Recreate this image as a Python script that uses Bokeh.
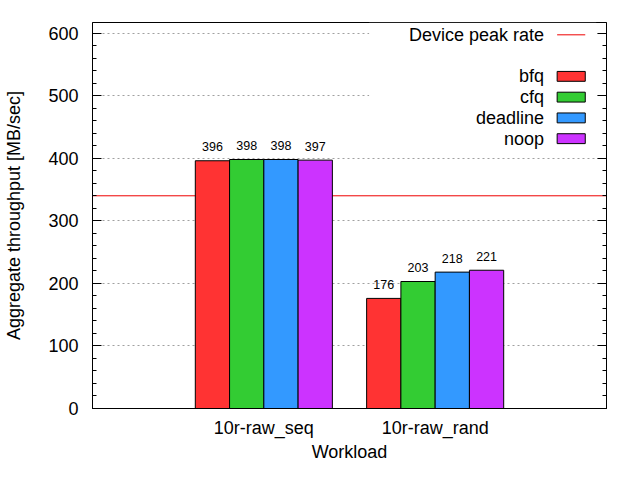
from bokeh.plotting import figure
from bokeh.models import (Span, SingleIntervalTicker, FixedTicker,
                          LinearAxis, Range1d, ColumnDataSource, Label)
from bokeh.embed import file_html
from bokeh.resources import INLINE
from bokeh.core.properties import value

# ---- data ----
workloads = ["10r-raw_seq", "10r-raw_rand"]
schedulers = ["bfq", "cfq", "deadline", "noop"]
colors = ["#ff3333", "#33cc33", "#3399ff", "#cc33ff"]
bfq = [396, 176]
cfq = [398, 203]
deadline = [398, 218]
noop = [397, 221]
peak_rate = 340
peak_label = "Device peak rate"
x_title = "Workload"
y_title = "Aggregate throughput [MB/sec]"
series = [bfq, cfq, deadline, noop]

FONT = "Liberation Sans"
BIG = "18px"

p = figure(width=624, height=464, output_backend="svg", toolbar_location=None,
           x_range=Range1d(-1, 2), y_range=Range1d(0, 617),
           min_border_left=92, min_border_right=18, min_border_top=22,
           min_border_bottom=52)

p.outline_line_color = "black"
p.outline_line_width = 1

# grid
p.xgrid.grid_line_color = None
p.ygrid.grid_line_color = "#a0a0a0"
p.ygrid.grid_line_dash = "2 3"
p.ygrid.grid_line_width = 1

# peak rate line behind bars
p.add_layout(Span(location=peak_rate, dimension="width", line_color="#ee0000",
                  line_width=1, level="underlay"))

# white key background (glyph level, above the grid)
key_text_x = 1.636
key_sw_x0, key_sw_x1 = 1.712, 1.876
key_top_y = 597.3
row = 33.2
p.quad(left=[0.615], right=[1.94], bottom=[412], top=[616.5],
       fill_color="white", line_color=None)

# bars
bar_w = 0.2
for j, (name, vals, col) in enumerate(zip(schedulers, series, colors)):
    xs = [i + (j - 1.5) * bar_w for i in range(len(workloads))]
    src = ColumnDataSource(dict(x=xs, top=vals, lab=[str(v) for v in vals]))
    p.vbar(x="x", top="top", bottom=0, width=bar_w, source=src,
           fill_color=col, line_color="black", line_width=1)
    p.text(x="x", y="top", text="lab", source=src, text_align="center",
           text_baseline="alphabetic", y_offset=-14,
           text_font=value(FONT), text_font_size="12.5px", text_color="black")

# axes
for ax in (p.xaxis[0], p.yaxis[0]):
    ax.axis_line_color = "black"
    ax.major_label_text_color = "black"
    ax.axis_label_text_color = "black"
    ax.major_label_text_font = FONT
    ax.major_label_text_font_size = BIG
    ax.axis_label_text_font = FONT
    ax.axis_label_text_font_size = BIG
    ax.axis_label_text_font_style = "normal"

p.yaxis.ticker = SingleIntervalTicker(interval=100, num_minor_ticks=5)
p.yaxis.major_tick_in = 9
p.yaxis.major_tick_out = 0
p.yaxis.minor_tick_in = 4
p.yaxis.minor_tick_out = 0
p.yaxis.major_tick_line_color = "black"
p.yaxis.minor_tick_line_color = "black"
p.yaxis.major_label_standoff = 14
p.yaxis.axis_label = y_title
p.yaxis.axis_label_standoff = 21

p.xaxis.ticker = FixedTicker(ticks=list(range(len(workloads))))
p.xaxis.major_label_overrides = {i: w for i, w in enumerate(workloads)}
p.xaxis.major_tick_in = 0
p.xaxis.major_tick_out = 0
p.xaxis.minor_tick_line_color = None
p.xaxis.major_label_standoff = 9
p.xaxis.axis_label = x_title
p.xaxis.axis_label_standoff = 1

right = LinearAxis(ticker=SingleIntervalTicker(interval=100, num_minor_ticks=5))
right.axis_line_color = "black"
right.major_tick_in = 9
right.major_tick_out = 0
right.minor_tick_in = 4
right.minor_tick_out = 0
right.major_tick_line_color = "black"
right.minor_tick_line_color = "black"
right.major_label_text_color = None
right.major_label_text_font_size = "1px"
right.major_label_standoff = 0
p.add_layout(right, "right")

# ---- key (gnuplot-style, right aligned text) ----
p.add_layout(Label(x=key_text_x, y=key_top_y, text=peak_label, text_align="right",
                   text_baseline="middle", text_font=FONT, text_font_size=BIG,
                   text_color="black"))
p.segment(x0=[key_sw_x0], x1=[key_sw_x1], y0=[key_top_y], y1=[key_top_y],
          line_color="#ee0000", line_width=1)
for j, (name, col) in enumerate(zip(schedulers, colors)):
    yc = key_top_y - (j + 2) * row
    p.add_layout(Label(x=key_text_x, y=yc, text=name, text_align="right",
                       text_baseline="middle", text_font=FONT, text_font_size=BIG,
                       text_color="black"))
    p.quad(left=[key_sw_x0], right=[key_sw_x1], bottom=[yc - 7.9], top=[yc + 7.9],
           fill_color=col, line_color="black", line_width=1)

open("out.html", "w").write(file_html(p, INLINE))
